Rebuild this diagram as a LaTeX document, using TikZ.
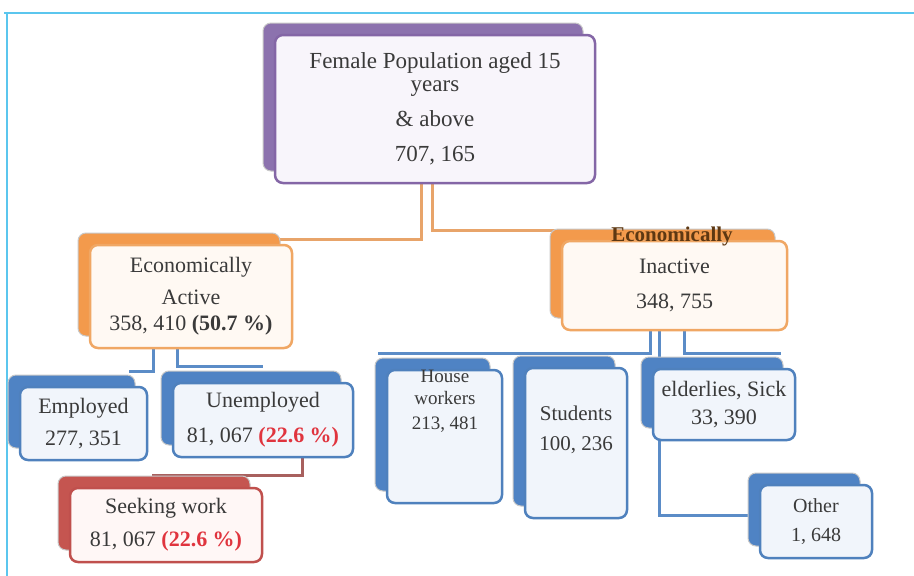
\documentclass[tikz,border=0pt]{standalone}
\usepackage{fontspec}
\setmainfont{Liberation Serif}
\usetikzlibrary{shadows}

\definecolor{frameline}{HTML}{5BC6EE}
\definecolor{ink}{HTML}{3A3A3A}
\definecolor{pctred}{HTML}{E0343E}
\definecolor{purpleback}{HTML}{8C72AE}
\definecolor{purpleline}{HTML}{8466A6}
\definecolor{purplefill}{HTML}{F8F5FB}
\definecolor{orangeback}{HTML}{F39A4C}
\definecolor{orangeline}{HTML}{F0A764}
\definecolor{orangefill}{HTML}{FFF9F3}
\definecolor{blueback}{HTML}{4F83C4}
\definecolor{blueline}{HTML}{4F81BD}
\definecolor{bluefill}{HTML}{F1F5FB}
\definecolor{redback}{HTML}{C55550}
\definecolor{redline}{HTML}{C0504D}
\definecolor{redfill}{HTML}{FFF7F6}
\definecolor{edgegray}{HTML}{C8C8C8}
\definecolor{linkorange}{HTML}{E8A46A}
\definecolor{linkblue}{HTML}{5B8CC7}
\definecolor{linkred}{HTML}{A8605E}
\definecolor{peekbrown}{HTML}{5E3812}

\pgfdeclarelayer{paper}
\pgfdeclarelayer{links}
\pgfsetlayers{paper,links,main}

\tikzset{
  card/.style={rounded corners=8pt, line width=2.5pt, inner sep=0pt,
    align=center, text=ink, font=\fontsize{22}{24}\selectfont},
  stacked/.style={copy shadow={shadow xshift=-12pt, shadow yshift=12pt,
    fill=#1, draw=edgegray, line width=1pt}},
  purplecard/.style={card, draw=purpleline, fill=purplefill, stacked=purpleback},
  orangecard/.style={card, draw=orangeline, fill=orangefill, stacked=orangeback},
  bluecard/.style={card, draw=blueline, fill=bluefill, stacked=blueback},
  redcard/.style={card, draw=redline, fill=redfill, stacked=redback},
  cardtext/.style={align=center, text=ink, inner sep=0pt},
  link/.style={line width=3pt}
}
\newcommand{\redpct}[1]{\textcolor{pctred}{\textbf{#1}}}

\begin{document}
\begin{tikzpicture}[x=1pt, y=-1pt]
  \useasboundingbox (0,0) rectangle (914,576);
  \begin{pgfonlayer}{paper}
    \fill[white] (0,0) rectangle (914,576);
  \end{pgfonlayer}

  % page frame
  \draw[frameline, line width=1.5pt] (4,13) -- (914,13);
  \draw[frameline, line width=1.5pt] (7,13) -- (7,576);

  % top level
  \node[purplecard, minimum width=320pt, minimum height=148pt,
        font=\fontsize{23}{23}\selectfont] (top) at (435,109)
    {Female Population aged 15\\years\\[12pt]\& above\\[12pt]707, 165};

  % second level
  \node[orangecard, minimum width=202pt, minimum height=103pt] (act) at (191,296.5)
    {Economically\\[8pt]Active\\[2pt]358, 410 \textbf{(50.7 \%)}};
  \node[orangecard, minimum width=225pt, minimum height=89pt] (inact) at (674.5,285.5)
    {Inactive\\[11pt]348, 755};
  \node[text=peekbrown, font=\bfseries\fontsize{21}{22}\selectfont, inner sep=0pt]
    (inactpeek) at (672,236) {Economically};

  % children of the economically active
  \node[bluecard, minimum width=127pt, minimum height=73pt] (emp) at (83.5,423.5)
    {Employed\\[8pt]277, 351};
  \node[bluecard, minimum width=180pt, minimum height=74pt] (unemp) at (263,420)
    {Unemployed\\[11pt]81, 067 \redpct{(22.6 \%)}};
  \node[redcard, minimum width=192pt, minimum height=74pt] (seek) at (166,525)
    {Seeking work\\[9pt]81, 067 \redpct{(22.6 \%)}};

  % children of the economically inactive
  \node[bluecard, minimum width=115pt, minimum height=133pt] (house) at (444.5,436.5) {};
  \node[cardtext, font=\fontsize{19}{22}\selectfont] (housetext) at (445,401)
    {House\\workers\\[3pt]213, 481};
  \node[bluecard, minimum width=102pt, minimum height=150pt] (stud) at (576,443) {};
  \node[cardtext, font=\fontsize{21}{22}\selectfont] (studtext) at (576,430)
    {Students\\[8pt]100, 236};
  \node[bluecard, minimum width=142pt, minimum height=71pt,
        font=\fontsize{22}{23}\selectfont] (eld) at (724,404.5)
    {elderlies, Sick\\[5pt]33, 390};
  \node[bluecard, minimum width=112pt, minimum height=73pt,
        font=\fontsize{20}{22}\selectfont] (oth) at (816,521.5)
    {Other\\[7pt]1, 648};

  % connectors, kept behind the cards
  \begin{pgfonlayer}{links}
    \draw[link, linkorange] ([xshift=-14pt]top.south) |- ([yshift=4pt]act.north);
    \draw[link, linkorange] ([xshift=-3pt]top.south) |- ([yshift=9pt]inact.north);
    \draw[link, linkblue] ([xshift=-38pt]act.south) |- ([xshift=-19pt,yshift=14pt]emp.north east);
    \draw[link, linkblue] ([xshift=-14pt]act.south) |- ([yshift=15pt]unemp.north);
    \draw[link, linkred] ([xshift=39pt]unemp.south) |- ([xshift=-14pt,yshift=11pt]seek.north);
    \draw[link, linkblue] ([xshift=-24.5pt]inact.south) |- ([xshift=-8pt,yshift=15pt]house.north west);
    \draw[link, linkblue] ([xshift=-24.5pt]inact.south) |- ([yshift=13pt]stud.north);
    \draw[link, linkblue] ([xshift=9.5pt]inact.south) |- ([xshift=-15pt,yshift=14pt]eld.north east);
    \draw[link, linkblue] ([xshift=-15.5pt]inact.south) |- ([yshift=6.5pt]oth.west);
  \end{pgfonlayer}
\end{tikzpicture}
\end{document}
